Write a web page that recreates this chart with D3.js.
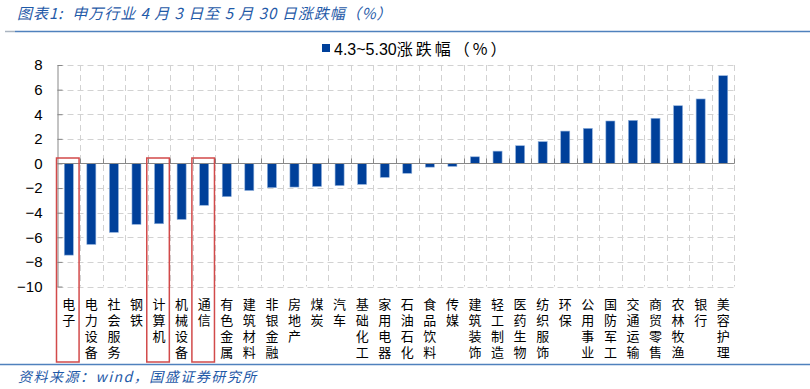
<!DOCTYPE html>
<meta charset="utf-8">
<style>
body{margin:0;background:#fff;}
.grid line{stroke:#d2d2d2;stroke-dasharray:6,4;stroke-width:1;}
.axis path,.axis line{stroke:#888;}
.axis text{font-family:"Liberation Sans",Arial,sans-serif;font-size:15px;fill:#000;}
.cat{font-family:"Noto Sans CJK SC",sans-serif;font-size:13px;fill:#000;}
.head{font-family:"Noto Sans CJK SC",sans-serif;font-style:italic;fill:#1f5aa8;}
</style>
<svg width="810" height="389"></svg>
<script src="https://cdn.jsdelivr.net/npm/d3@7"></script>
<script>

var industries = ["电子","电力设备","社会服务","钢铁","计算机","机械设备","通信","有色金属","建筑材料","非银金融",
  "房地产","煤炭","汽车","基础化工","家用电器","石油石化","食品饮料","传媒","建筑装饰","轻工制造",
  "医药生物","纺织服饰","环保","公用事业","国防军工","交通运输","商贸零售","农林牧渔","银行","美容护理"];
var changes = [-7.45,-6.58,-5.6,-4.95,-4.9,-4.55,-3.4,-2.7,-2.2,-1.97,
  -1.92,-1.87,-1.8,-1.7,-1.13,-0.8,-0.3,-0.24,0.54,1.0,
  1.44,1.77,2.63,2.85,3.45,3.5,3.67,4.69,5.24,7.13];
var highlighted = ["电子","计算机","通信"];
var yTicks = [-10,-8,-6,-4,-2,0,2,4,6,8];
var seriesName = "4.3~5.30";
var seriesUnit = "涨跌幅（%）";

var svg = d3.select("svg"),
    width = +svg.attr("width"),
    height = +svg.attr("height");

var x = d3.scaleBand()
    .domain(industries)
    .range([57.5, 734.5]);

var y = d3.scaleLinear()
    .domain([-10, 8])
    .range([286.5, 65]);

// title + rules
svg.append("text").attr("class","head")
    .attr("x", 17).attr("y", 19).style("font-size","15px")
    .style("letter-spacing","1px")
    .attr("xml:space","preserve")
    .text("图表1:  申万行业 4 月 3 日至 5 月 30 日涨跌幅（%）");
svg.append("line").attr("x1",15).attr("x2",width).attr("y1",31.5).attr("y2",31.5)
    .attr("stroke","#4f81bd").attr("stroke-width",1.5);
svg.append("line").attr("x1",5).attr("x2",15).attr("y1",31.5).attr("y2",31.5)
    .attr("stroke","#aab4c0").attr("stroke-width",1.5);
svg.append("line").attr("x1",0).attr("x2",width).attr("y1",364.5).attr("y2",364.5)
    .attr("stroke","#4f81bd").attr("stroke-width",1.5);
svg.append("text").attr("class","head")
    .attr("x", 18).attr("y", 382).style("font-size","14px")
    .style("letter-spacing","1.5px")
    .text("资料来源：wind，国盛证券研究所");

// grid
var grid = svg.append("g").attr("class","grid");
grid.selectAll(".h").data(yTicks.filter(function(d){ return d !== 0; }))
  .enter().append("line")
    .attr("x1", x.range()[0]).attr("x2", x.range()[1])
    .attr("y1", function(d){ return Math.round(y(d)) + 0.5; })
    .attr("y2", function(d){ return Math.round(y(d)) + 0.5; });
grid.selectAll(".v").data(industries.slice(1).concat([null]))
  .enter().append("line")
    .attr("x1", function(d){ return d ? Math.round(x(d)) + 0.5 : x.range()[1]; })
    .attr("x2", function(d){ return d ? Math.round(x(d)) + 0.5 : x.range()[1]; })
    .attr("y1", y(8)).attr("y2", y(-10));

// bars
var bw = x.bandwidth() * 0.4;
svg.append("g").selectAll("rect")
    .data(industries)
  .enter().append("rect")
    .attr("x", function(d){ return x(d) + (x.bandwidth() - bw) / 2; })
    .attr("width", bw)
    .attr("y", function(d, i){ return y(Math.max(0, changes[i])); })
    .attr("height", function(d, i){ return Math.abs(y(changes[i]) - y(0)); })
    .attr("fill", "#00409a")
    .attr("stroke", "#8fb0dc")
    .attr("stroke-width", 0.6);

// zero line with small ticks
var zero = Math.round(y(0)) + 0.5;
svg.append("line").attr("x1", x.range()[0]).attr("x2", x.range()[1])
    .attr("y1", zero).attr("y2", zero).attr("stroke","#888").attr("stroke-width",1.2);
svg.append("g").selectAll("line")
    .data(industries.slice(1).concat([null]))
  .enter().append("line")
    .attr("x1", function(d){ return d ? Math.round(x(d)) + 0.5 : x.range()[1]; })
    .attr("x2", function(d){ return d ? Math.round(x(d)) + 0.5 : x.range()[1]; })
    .attr("y1", zero).attr("y2", zero - 5)
    .attr("stroke","#888");

// y axis
svg.append("g").attr("class","axis")
    .attr("transform","translate(" + x.range()[0] + ",0)")
    .call(d3.axisLeft(y).tickValues(yTicks).tickSizeInner(-5).tickSizeOuter(0).tickPadding(15))
    .call(function(g){ g.select(".domain").attr("stroke","#888"); });

// category labels, one character per line
var cats = svg.append("g");
industries.forEach(function(d){
  d.split("").forEach(function(c, k){
    cats.append("text")
      .attr("class","cat")
      .attr("text-anchor","middle")
      .attr("x", x(d) + x.bandwidth() / 2)
      .attr("y", 309 + k * 16)
      .text(c);
  });
});

// red boxes round highlighted industries
svg.append("g").selectAll("rect")
    .data(highlighted)
  .enter().append("rect")
    .attr("x", function(d){ return x(d) - 1; })
    .attr("width", x.bandwidth())
    .attr("y", 158)
    .attr("height", 204)
    .attr("fill","none")
    .attr("stroke","#d24a4a")
    .attr("stroke-width",1.5);

// legend
svg.append("rect").attr("x", 322).attr("y", 44).attr("width", 8).attr("height", 8)
    .attr("fill","#00409a");
var leg = svg.append("text").attr("x", 334).attr("y", 55)
    .style("font-size","16px");
leg.append("tspan")
    .style("font-family","'Liberation Sans',Arial,sans-serif")
    .text(seriesName);
leg.append("tspan")
    .style("font-family","'Noto Sans CJK SC',sans-serif")
    .style("letter-spacing","3px")
    .text(seriesUnit);

</script>
